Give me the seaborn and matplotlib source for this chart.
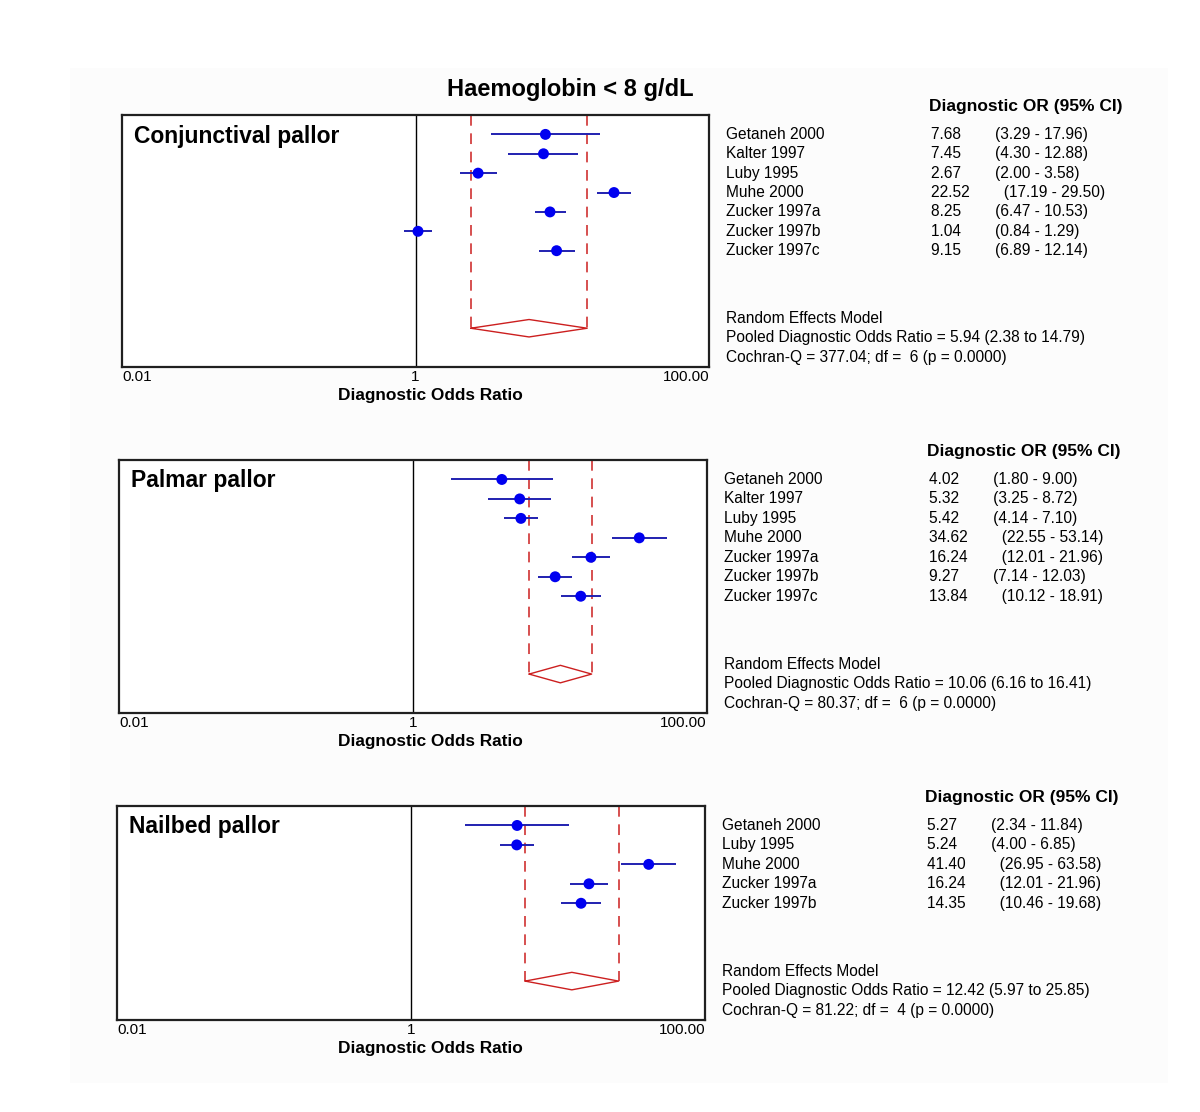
import matplotlib
matplotlib.use("Agg")
import matplotlib.pyplot as plt
import seaborn as sns
import pandas as pd
from matplotlib.patches import Rectangle

# ---- data ----
conj_studies = ["Getaneh 2000", "Kalter 1997", "Luby 1995", "Muhe 2000",
                "Zucker 1997a", "Zucker 1997b", "Zucker 1997c"]
conj_or = [7.68, 7.45, 2.67, 22.52, 8.25, 1.04, 9.15]
conj_lo = [3.29, 4.30, 2.00, 17.19, 6.47, 0.84, 6.89]
conj_hi = [17.96, 12.88, 3.58, 29.50, 10.53, 1.29, 12.14]
conj_pooled = [5.94, 2.38, 14.79]
conj_q = [377.04, 6]

palm_studies = ["Getaneh 2000", "Kalter 1997", "Luby 1995", "Muhe 2000",
                "Zucker 1997a", "Zucker 1997b", "Zucker 1997c"]
palm_or = [4.02, 5.32, 5.42, 34.62, 16.24, 9.27, 13.84]
palm_lo = [1.80, 3.25, 4.14, 22.55, 12.01, 7.14, 10.12]
palm_hi = [9.00, 8.72, 7.10, 53.14, 21.96, 12.03, 18.91]
palm_pooled = [10.06, 6.16, 16.41]
palm_q = [80.37, 6]

nail_studies = ["Getaneh 2000", "Luby 1995", "Muhe 2000", "Zucker 1997a", "Zucker 1997b"]
nail_or = [5.27, 5.24, 41.40, 16.24, 14.35]
nail_lo = [2.34, 4.00, 26.95, 12.01, 10.46]
nail_hi = [11.84, 6.85, 63.58, 21.96, 19.68]
nail_pooled = [12.42, 5.97, 25.85]
nail_q = [81.22, 4]

panel_titles = ["Conjunctival pallor", "Palmar pallor", "Nailbed pallor"]
xticks = [0.01, 1, 100]
xtick_labels = ["0.01", "1", "100.00"]

panels = [
    (conj_studies, conj_or, conj_lo, conj_hi, conj_pooled, conj_q),
    (palm_studies, palm_or, palm_lo, palm_hi, palm_pooled, palm_q),
    (nail_studies, nail_or, nail_lo, nail_hi, nail_pooled, nail_q),
]

# axes boxes in pixels (left, top, right, bottom) on a 1200x1112 canvas
W, H = 1200, 1112
boxes = [(122, 115, 709, 367), (119, 460, 707, 713), (117, 806, 705, 1020)]

sns.set_style("white")
plt.rcParams['font.family'] = ['Liberation Sans', 'DejaVu Sans']
plt.rcParams['text.color'] = 'black'
plt.rcParams['axes.labelcolor'] = 'black'
plt.rcParams['xtick.color'] = 'black'

fig = plt.figure(figsize=(12, 11.12), dpi=100)
fig.patches.append(Rectangle((70 / W, 1 - 1083 / H), (1168 - 70) / W, (1083 - 68) / H,
                             transform=fig.transFigure, facecolor="#fcfcfc",
                             edgecolor="none", zorder=-10))

fig.text(570 / W, 1 - 90 / H, "Haemoglobin < 8 g/dL", ha="center", va="center",
         fontsize=17, fontweight="bold")

red = "#cc1f1f"
dot_blue = "#0000f0"
line_blue = "#2020b0"

for (studies, ors, los, his, pooled, q), title, (l, t, r, b) in zip(panels, panel_titles, boxes):
    ax = fig.add_axes([l / W, 1 - b / H, (r - l) / W, (b - t) / H])
    n = len(studies)
    df = pd.DataFrame({"study": studies, "dor": ors, "lo": los, "hi": his,
                       "row": list(range(n))})

    ax.set_xscale("log")
    ax.set_xlim(0.01, 100)
    ax.set_ylim(n + 5, -1)

    # pooled CI dashed lines and diamond
    drow = n + 3
    ax.vlines([pooled[1], pooled[2]], -1, drow, colors=red, linewidth=1.1,
              linestyles=(0, (7, 5)), zorder=2)
    ax.plot([pooled[1], pooled[0], pooled[2], pooled[0], pooled[1]],
            [drow, drow - 0.45, drow, drow + 0.45, drow], color=red, linewidth=1, zorder=2)

    # line of no effect
    ax.axvline(1, color="black", linewidth=1, zorder=1)

    # study estimates
    ax.hlines(df["row"], df["lo"], df["hi"], colors=line_blue, linewidth=1.4, zorder=3)
    sns.scatterplot(data=df, x="dor", y="row", ax=ax, color=dot_blue, s=62,
                    marker="o", edgecolor="none", zorder=4, legend=False)

    ax.set_yticks([])
    ax.set_ylabel("")
    ax.set_xticks(xticks)
    ax.set_xticklabels(xtick_labels, fontsize=11)
    ax.minorticks_off()
    ax.tick_params(axis="x", length=0, pad=2)
    tl = ax.get_xticklabels()
    tl[0].set_ha("left")
    tl[2].set_ha("right")
    ax.set_xlabel("Diagnostic Odds Ratio", fontsize=12.4, fontweight="bold")
    ax.xaxis.set_label_coords((430 - l) / (r - l), -21 / (b - t))
    for sp in ax.spines.values():
        sp.set_color("#202020")
        sp.set_linewidth(1.6)

    ax.text(12 / (r - l), 1 - 21 / (b - t), title, transform=ax.transAxes,
            fontsize=16.5, fontweight="bold", ha="left", va="center")

    # table on the right
    tr = ax.get_yaxis_transform()
    ax.text(1.704, -1.45, "Diagnostic OR (95% CI)", transform=tr, ha="right", va="center",
            fontsize=12.5, fontweight="bold")
    for i in range(n):
        ax.text(1.029, i, studies[i], transform=tr, ha="left", va="center", fontsize=11.2)
        ax.text(1.378, i, f"{ors[i]:.2f}        ({los[i]:.2f} - {his[i]:.2f})", transform=tr,
                ha="left", va="center", fontsize=11.2)
    ax.text(1.029, n + 2.5, "Random Effects Model", transform=tr, ha="left", va="center",
            fontsize=11.2)
    ax.text(1.029, n + 3.5,
            f"Pooled Diagnostic Odds Ratio = {pooled[0]:.2f} ({pooled[1]:.2f} to {pooled[2]:.2f})",
            transform=tr, ha="left", va="center", fontsize=11.2)
    ax.text(1.029, n + 4.5, f"Cochran-Q = {q[0]:.2f}; df =  {q[1]} (p = 0.0000)",
            transform=tr, ha="left", va="center", fontsize=11.2)

fig.savefig("out.png", dpi=100, facecolor="white")
